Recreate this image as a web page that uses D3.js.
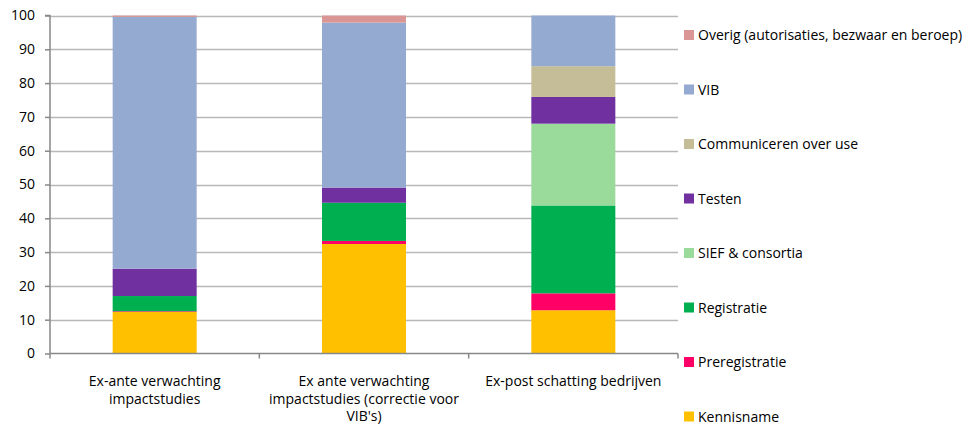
<!DOCTYPE html>
<html>
<head>
<meta charset="utf-8">
<script src="https://cdn.jsdelivr.net/npm/d3@7"></script>
<style>
  html, body { margin: 0; padding: 0; background: #fff; }
  svg { display: block; font-family: "Open Sans", "Liberation Sans", sans-serif; }
</style>
</head>
<body>
<svg id="chart" width="969" height="425"></svg>
<script>
// Categories (each may wrap onto several lines)
const categories = [
  ["Ex-ante verwachting", "impactstudies"],
  ["Ex ante verwachting", "impactstudies (correctie voor", "VIB's)"],
  ["Ex-post schatting  bedrijven"]
];

// Series, stacked bottom to top
const seriesNames = [
  "Kennisname", "Preregistratie", "Registratie", "SIEF & consortia",
  "Testen", "Communiceren over use", "VIB", "Overig (autorisaties, bezwaar en beroep)"
];
const seriesColors = [
  "#FFC000", "#FF0066", "#00B050", "#9ADA9A",
  "#7030A0", "#C4BD97", "#95AAD1", "#D99694"
];

// Percentages per series, one per category
const kennisname      = [12.3, 32.4, 12.8];
const preregistratie  = [0.2, 0.9, 5.0];
const registratie     = [4.5, 11.3, 26.0];
const siefConsortia   = [0, 0, 24.2];
const testen          = [8.1, 4.5, 7.9];
const communiceren    = [0, 0, 9.1];
const vib             = [74.5, 48.8, 15.0];
const overig          = [0.4, 2.1, 0];

const seriesValues = [kennisname, preregistratie, registratie, siefConsortia,
                      testen, communiceren, vib, overig];

const yTicks = [0, 10, 20, 30, 40, 50, 60, 70, 80, 90, 100];

const svg = d3.select("#chart");
const margin = { left: 50, right: 291, top: 15.5, bottom: 71.5 };
const W = 969, H = 425;
const x0 = margin.left, x1 = W - margin.right;
const yTop = margin.top, yBot = H - margin.bottom;
const fontSize = 14;

const x = d3.scaleBand().domain(d3.range(categories.length)).range([x0, x1]).paddingInner(0).paddingOuter(0);
const y = d3.scaleLinear().domain([0, 100]).range([yBot, yTop]);

// Gridlines
svg.append("g").selectAll("line").data(yTicks.filter(d => d > 0)).join("line")
  .attr("x1", x0).attr("x2", x1)
  .attr("y1", d => Math.round(y(d)) + 0.5).attr("y2", d => Math.round(y(d)) + 0.5)
  .attr("stroke", "#b8b8b8").attr("stroke-width", 1.5);

// Stacked bars
const rows = categories.map((c, i) => {
  const r = { i };
  seriesNames.forEach((s, k) => r[s] = seriesValues[k][i]);
  return r;
});
const stack = d3.stack().keys(seriesNames)(rows);
const barW = 84;
svg.append("g").selectAll("g").data(stack).join("g")
  .attr("fill", (d, k) => seriesColors[k])
  .selectAll("rect").data(d => d).join("rect")
  .attr("x", d => x(d.data.i) + x.bandwidth() / 2 - barW / 2)
  .attr("width", barW)
  .attr("y", d => y(d[1]))
  .attr("height", d => Math.max(0, y(d[0]) - y(d[1])));

// Y axis
const yAxis = d3.axisLeft(y).tickValues(yTicks).tickSize(5).tickPadding(10);
const gy = svg.append("g").attr("transform", `translate(${x0},0)`).call(yAxis);
gy.select(".domain").attr("stroke", "#888").attr("stroke-width", 1.5).attr("d", `M-5,${yTop}H0V${yBot}`);
gy.selectAll(".tick line").attr("stroke", "#888").attr("stroke-width", 1.5);
gy.selectAll(".tick text").attr("font-size", fontSize).attr("fill", "#000")
  .attr("font-family", "'Open Sans', sans-serif");

// X axis line with boundary ticks
const gx = svg.append("g");
gx.append("line").attr("x1", x0).attr("x2", x1).attr("y1", yBot).attr("y2", yBot)
  .attr("stroke", "#888").attr("stroke-width", 1.5);
const bounds = d3.range(categories.length + 1).map(i => i < categories.length ? x(i) : x1);
gx.selectAll("line.b").data(bounds).join("line").attr("class", "b")
  .attr("x1", d => d).attr("x2", d => d).attr("y1", yBot).attr("y2", yBot + 5)
  .attr("stroke", "#888").attr("stroke-width", 1.5);

// Category labels
categories.forEach((lines, i) => {
  const cx = x(i) + x.bandwidth() / 2;
  const t = svg.append("text")
    .attr("x", cx).attr("y", 386)
    .attr("text-anchor", "middle")
    .attr("font-size", fontSize).attr("fill", "#000");
  lines.forEach((ln, j) => t.append("tspan")
    .attr("x", cx).attr("dy", j === 0 ? 0 : 17.5).text(ln));
});

// Legend, top entry is the last series
const legendOrder = seriesNames.map((s, k) => k).reverse();
const lg = svg.append("g");
legendOrder.forEach((k, r) => {
  const cy = 35 + r * 54.5;
  lg.append("rect").attr("x", 684).attr("y", cy - 5).attr("width", 10).attr("height", 10)
    .attr("fill", seriesColors[k]);
  lg.append("text").attr("x", 698).attr("y", cy + 5)
    .attr("font-size", fontSize).attr("fill", "#000").text(seriesNames[k]);
});
</script>
</body>
</html>
